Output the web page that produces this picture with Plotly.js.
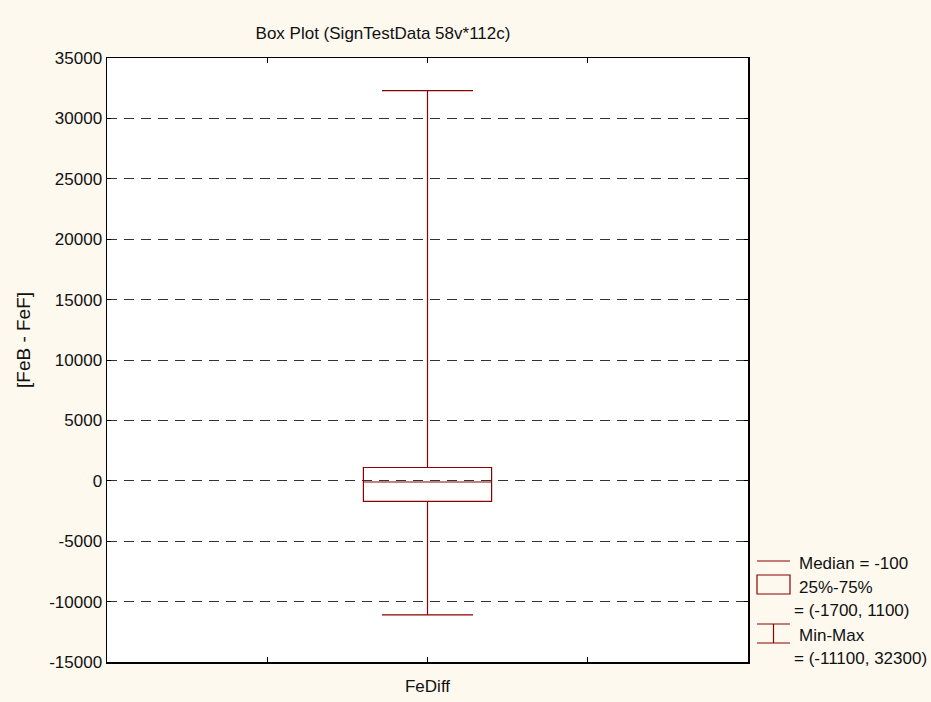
<!DOCTYPE html>
<html>
<head>
<meta charset="utf-8">
<script src="https://cdn.plot.ly/plotly-3.0.1.min.js"></script>
<style>html,body{margin:0;padding:0;background:#FDF9EF;}#chart{width:931px;height:702px;}</style>
</head>
<body>
<div id="chart"></div>
<script>
// ---- data ----
const categories = ['FeDiff'];
const medians = [-100];
const q1s = [-1700];
const q3s = [1100];
const mins = [-11100];
const maxs = [32300];
const yTicks = [-15000, -10000, -5000, 0, 5000, 10000, 15000, 20000, 25000, 30000, 35000];
const chartTitle = 'Box Plot (SignTestData 58v*112c)';
const yTitle = '[FeB - FeF]';

// ---- layout helpers ----
const W = 931, H = 702;
const L = 107, R = 748, T = 58, B = 662;
const pw = R - L, ph = B - T;
const px = v => (v - L) / pw;
const py = v => (B - v) / ph;
const red = '#8B0000';
const fontFam = '"Liberation Sans", Arial, sans-serif';

const xpos = categories.map((c, i) => i);

const trace = {
  type: 'box',
  x: xpos,
  q1: q1s, median: medians, q3: q3s,
  lowerfence: mins, upperfence: maxs,
  boxpoints: false,
  width: 0.8,
  whiskerwidth: 0.71,
  line: {color: red, width: 1.2},
  fillcolor: 'rgba(255,255,255,0)',
  hoverinfo: 'skip',
  showlegend: false
};

const shapes = [
  {type: 'line', xref: 'paper', yref: 'paper', x0: px(757), x1: px(790), y0: py(561), y1: py(561), line: {color: red, width: 1.2}},
  {type: 'rect', xref: 'paper', yref: 'paper', x0: px(757), x1: px(790), y0: py(594), y1: py(575), line: {color: red, width: 1.2}},
  {type: 'line', xref: 'paper', yref: 'paper', x0: px(757), x1: px(790), y0: py(624), y1: py(624), line: {color: red, width: 1.2}},
  {type: 'line', xref: 'paper', yref: 'paper', x0: px(757), x1: px(790), y0: py(643), y1: py(643), line: {color: red, width: 1.2}},
  {type: 'line', xref: 'paper', yref: 'paper', x0: px(773.5), x1: px(773.5), y0: py(624), y1: py(643), line: {color: red, width: 1.2}}
];

const legFont = {family: fontFam, size: 17, color: '#111'};
const ann = (x, y, text) => ({xref: 'paper', yref: 'paper', x: px(x), y: py(y), text: text, showarrow: false, xanchor: 'left', yanchor: 'middle', font: legFont});
const annotations = [
  ann(797, 563, 'Median = ' + medians[0]),
  ann(797, 587, '25%-75%'),
  ann(792, 610, '= (' + q1s[0] + ', ' + q3s[0] + ')'),
  ann(797, 635, 'Min-Max'),
  ann(792, 658, '= (' + mins[0] + ', ' + maxs[0] + ')'),
  {xref: 'paper', yref: 'paper', x: px(23), y: py(340), text: yTitle, textangle: -90, showarrow: false,
   xanchor: 'center', yanchor: 'middle', font: {family: fontFam, size: 19, color: '#111'}}
];

const layout = {
  width: W, height: H,
  margin: {l: L, r: W - R, t: T, b: H - B, pad: 0},
  paper_bgcolor: '#FDF9EF',
  plot_bgcolor: '#FFFFFF',
  font: {family: fontFam, size: 16, color: '#111'},
  title: {text: chartTitle, x: 383 / W, xref: 'container', xanchor: 'center', y: 1 - 33 / H, yref: 'container', yanchor: 'middle', font: {family: fontFam, size: 17, color: '#111'}},
  showlegend: false,
  xaxis: {
    range: [-2, 2],
    tickmode: 'array',
    tickvals: [-1, 0, 1],
    ticktext: ['', categories[0], ''],
    ticks: 'inside', ticklen: 5, tickcolor: '#000', tickwidth: 1,
    ticklabelstandoff: 8,
    showgrid: false, zeroline: false,
    showline: true, linecolor: '#000', linewidth: 1.5, mirror: 'ticks',
    tickfont: {family: fontFam, size: 17, color: '#111'},
    fixedrange: true
  },
  yaxis: {
    range: [-15000, 35000],
    tickmode: 'array',
    tickvals: yTicks,
    ticktext: yTicks.map(String),
    ticks: 'inside', ticklen: 4, tickcolor: '#000', tickwidth: 1,
    showgrid: true, gridcolor: '#333', gridwidth: 1, griddash: '10px,7px',
    zeroline: false,
    showline: true, linecolor: '#000', linewidth: 1.5, mirror: 'ticks',
    tickfont: {family: fontFam, size: 17, color: '#111'},
    fixedrange: true
  },
  shapes: shapes,
  annotations: annotations
};

Plotly.newPlot('chart', [trace], layout, {displayModeBar: false, staticPlot: true});
</script>
</body>
</html>
